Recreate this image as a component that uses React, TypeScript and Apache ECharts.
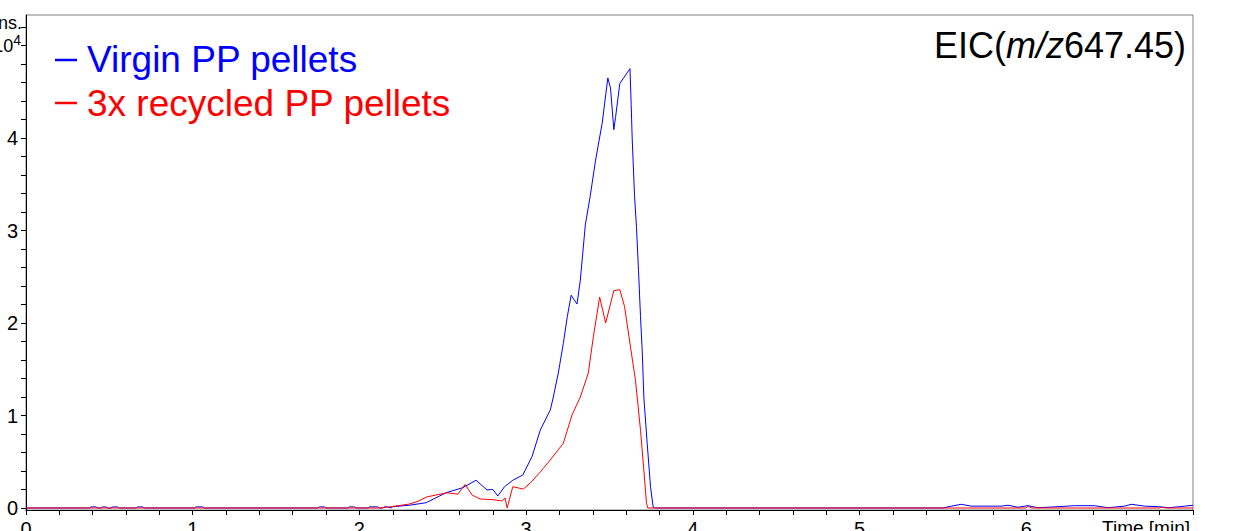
import React, { useEffect, useRef } from "react";
import * as echarts from "echarts";

// Retention time (min) and intensity (x10^4) — Virgin PP pellets
const blueTimes = [
  0, 0.38, 0.39, 0.42, 0.43, 0.45, 0.46, 0.48, 0.49, 0.51, 0.52, 0.55, 0.56, 0.66, 0.67, 0.7, 0.71,
  1.01, 1.02, 1.06, 1.07, 1.75, 1.76, 1.79, 1.8, 1.93, 1.94, 1.97, 1.98, 2.05, 2.06, 2.11, 2.12,
  2.14, 2.15, 2.17, 2.19,
  2.2, 2.3, 2.4, 2.52, 2.62, 2.7, 2.765, 2.8, 2.83, 2.87, 2.92, 2.98, 3.035, 3.085, 3.145, 3.163,
  3.193, 3.223, 3.247, 3.27, 3.305, 3.325, 3.355, 3.385, 3.415, 3.456, 3.49, 3.506, 3.526, 3.536,
  3.562, 3.623, 3.63, 3.636, 3.65, 3.662, 3.674, 3.686, 3.696, 3.706, 3.726, 3.746, 3.762, 3.776,
  5.5, 5.55, 5.61, 5.67, 5.85, 5.89, 5.95, 6.01, 6.07, 6.19, 6.29, 6.41, 6.49, 6.59, 6.63, 6.71,
  6.795, 6.855, 6.95, 7.0,
];
const blueValues = [
  0, 0, 0.012, 0.012, 0, 0, 0.012, 0.012, 0, 0, 0.012, 0.012, 0, 0, 0.012, 0.012, 0,
  0, 0.012, 0.012, 0, 0, 0.012, 0.012, 0, 0, 0.012, 0.012, 0, 0, 0.012, 0.012, 0,
  0, 0.012, 0.012, 0,
  0.014, 0.03, 0.057, 0.165, 0.22, 0.3, 0.195, 0.2, 0.13, 0.23, 0.3, 0.357, 0.555, 0.843, 1.06, 1.2,
  1.46, 1.78, 2.07, 2.3, 2.205, 2.465, 3.06, 3.38, 3.745, 4.16, 4.65, 4.54, 4.09, 4.22,
  4.59, 4.75, 4.36, 4.0, 3.38, 3.03, 2.57, 2.07, 1.71, 1.2, 0.7, 0.23, 0.008, 0,
  0, 0.02, 0.04, 0.02, 0.02, 0.03, 0.008, 0.025, 0.003, 0.014, 0.025, 0.025, 0.003, 0.02, 0.04, 0.02,
  0.014, 0.003, 0.02, 0.03,
];

// 3x recycled PP pellets
const redTimes = [
  0, 2.12, 2.2, 2.3, 2.345, 2.405, 2.525, 2.59, 2.634, 2.676, 2.724, 2.8, 2.856, 2.874, 2.886,
  2.92, 2.983, 3.025, 3.085, 3.145, 3.223, 3.275, 3.325, 3.373, 3.403, 3.441, 3.477, 3.526, 3.562,
  3.59, 3.626, 3.656, 3.686, 3.706, 3.722, 3.73, 6.0, 6.01, 6.03, 6.8, 6.81, 6.84, 7.0,
];
const redValues = [
  0, 0, 0.016, 0.043, 0.068, 0.12, 0.165, 0.15, 0.254, 0.14, 0.097, 0.09, 0.076, 0.108, 0,
  0.23, 0.205, 0.27, 0.39, 0.52, 0.7, 1.005, 1.2, 1.46, 1.85, 2.28, 2.0, 2.35, 2.36,
  2.18, 1.74, 1.38, 0.84, 0.41, 0.05, 0, 0, 0.02, 0, 0, 0.008, 0, 0,
];

const xLabelValues = [0, 1, 2, 3, 4, 5, 6];
const xTickValues = Array.from({ length: 36 }, (_, i) => Math.round(i * 0.2 * 10) / 10);
const yLabelValues = [0, 1, 2, 3, 4];
const yTickValues = Array.from({ length: 27 }, (_, i) => Math.round(i * 0.2 * 10) / 10);

const FONT = "'Liberation Sans', Arial, sans-serif";
const BLUE = "#0000ff";
const RED = "#ff0000";

export default function App() {
  const ref = useRef<HTMLDivElement>(null);
  useEffect(() => {
    document.body.style.margin = "0";
    const chart = echarts.init(ref.current!, null, { renderer: "svg" });
    chart.setOption({
      animation: false,
      backgroundColor: "#ffffff",
      grid: {
        left: 26,
        right: 56,
        top: 15,
        bottom: 21,
        show: true,
        borderColor: "#808080",
        borderWidth: 1,
        containLabel: false,
        outerBoundsMode: "none",
      },
      xAxis: {
        type: "value",
        min: 0,
        max: 7,
        axisLine: { show: true, onZero: false, lineStyle: { color: "#000", width: 1 } },
        axisTick: { show: true, customValues: xTickValues, length: 5, lineStyle: { color: "#000" } },
        axisLabel: {
          customValues: xLabelValues,
          fontSize: 20,
          fontFamily: FONT,
          color: "#000",
          margin: 9,
        },
        splitLine: { show: false },
      },
      yAxis: {
        type: "value",
        min: -0.0216,
        max: 5.33,
        axisLine: { show: true, onZero: false, lineStyle: { color: "#000", width: 1 } },
        axisTick: { show: true, customValues: yTickValues, length: 5, lineStyle: { color: "#000" } },
        axisLabel: {
          customValues: yLabelValues,
          fontSize: 20,
          fontFamily: FONT,
          color: "#000",
          margin: 8,
        },
        splitLine: { show: false },
      },
      series: [
        {
          name: "Virgin PP pellets",
          type: "line",
          showSymbol: false,
          symbol: "none",
          lineStyle: { color: BLUE, width: 1 },
          data: blueTimes.map((t, i) => [t, blueValues[i]]),
        },
        {
          name: "3x recycled PP pellets",
          type: "line",
          showSymbol: false,
          symbol: "none",
          lineStyle: { color: RED, width: 1 },
          data: redTimes.map((t, i) => [t, redValues[i]]),
        },
      ],
      graphic: [
        { type: "line", shape: { x1: 55, y1: 60, x2: 77, y2: 60 }, style: { stroke: BLUE, lineWidth: 2.5 } },
        {
          type: "text",
          x: 87,
          y: 59,
          style: { text: "Virgin PP pellets", fill: BLUE, font: `37px ${FONT}`, verticalAlign: "middle" },
        },
        { type: "line", shape: { x1: 55, y1: 103, x2: 77, y2: 103 }, style: { stroke: RED, lineWidth: 2.5 } },
        {
          type: "text",
          x: 87,
          y: 103,
          style: { text: "3x recycled PP pellets", fill: RED, font: `37px ${FONT}`, verticalAlign: "middle" },
        },
        {
          type: "text",
          x: 1186,
          y: 45,
          style: {
            text: "{n|EIC(}{i|m/z}{n|647.45)}",
            align: "right",
            verticalAlign: "middle",
            rich: {
              n: { fontSize: 36, fontFamily: FONT, color: "#000" },
              i: { fontSize: 36, fontFamily: FONT, fontStyle: "italic", color: "#000" },
            },
          },
        },
        {
          type: "text",
          x: 22,
          y: 23,
          style: { text: "Intens.", fill: "#000", font: `18px ${FONT}`, align: "right", verticalAlign: "middle" },
        },
        {
          type: "text",
          x: 21,
          y: 44,
          style: {
            text: "{n|x10}{s|4}",
            align: "right",
            verticalAlign: "middle",
            rich: {
              n: { fontSize: 18, fontFamily: FONT, color: "#000", verticalAlign: "bottom" },
              s: { fontSize: 14, fontFamily: FONT, color: "#000", verticalAlign: "top", padding: [0, 0, 8, 0] },
            },
          },
        },
        {
          type: "text",
          x: 1190,
          y: 518,
          style: { text: "Time [min]", fill: "#000", font: `19px ${FONT}`, align: "right", verticalAlign: "top" },
        },
      ],
    });
    return () => chart.dispose();
  }, []);
  return <div ref={ref} style={{ width: 1249, height: 531 }} />;
}
